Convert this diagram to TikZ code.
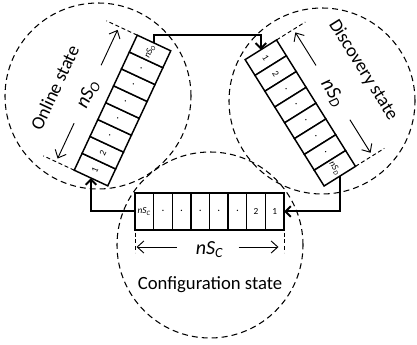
\documentclass[tikz,border=0pt]{standalone}
\usepackage{fontspec}
\setmainfont{Carlito}
\usetikzlibrary{positioning,arrows.meta}

\begin{document}
\begin{tikzpicture}[x=0.75pt,y=-0.75pt,
    cell/.style={draw,fill=white,line width=1.1pt,minimum width=13.97pt,minimum height=27.75pt,
      inner sep=0pt,outer sep=0pt,font=\fontsize{7}{8}\selectfont},
    zone/.style={circle,draw,dash pattern=on 4.5pt off 3pt,line width=0.8pt,minimum size=139.5pt,inner sep=0pt},
    conn/.style={line width=1.5pt,-{Straight Barb[length=4pt,width=8pt]}},
    dimarrow/.style={line width=0.7pt,-{Straight Barb[length=5pt,width=9pt]}},
    endtick/.style={dash pattern=on 3pt off 2pt,line width=0.7pt},
    statename/.style={font=\fontsize{14}{16}\selectfont},
    sizelabel/.style={font=\fontsize{15}{18}\selectfont\itshape}]

\useasboundingbox (0,0) rectangle (417,345);

% the three states
\node[zone] (online) at (98,96) {};
\node[zone] (discovery) at (322,101) {};
\node[zone] (config) at (210,245) {};

% online state buffer
\begin{scope}[shift={(122.5,110.5)},rotate=65,transform shape]
\node[cell] (o1) at (-65.2,0) {1};
\node[cell,right=0pt of o1] (o2) {2};
\node[cell,right=0pt of o2] (o3) {·};
\node[cell,right=0pt of o3] (o4) {·};
\node[cell,right=0pt of o4] (o5) {·};
\node[cell,right=0pt of o5] (o6) {·};
\node[cell,right=0pt of o6] (o7) {·};
\node[cell,right=0pt of o7] (oN) {\textit{nS}\textsubscript{\textit{O}}};
\draw[endtick] (o1.north west) -- ++(0,-34);
\draw[endtick] (oN.north east) -- ++(0,-34);
\node[sizelabel] (osize) at (0,-38) {nS\textsubscript{O}};
\coordinate (oa) at (32,-38.5);
\coordinate (ob) at (-32,-38.5);
\draw[dimarrow] (oa) -- ++(39,0);
\draw[dimarrow] (ob) -- ++(-39,0);
\node[statename] (oname) at (-8,-71) {Online state};
\end{scope}

% discovery state buffer
\begin{scope}[shift={(300.3,113)},rotate=-58,transform shape]
\node[cell] (d1) at (-65.2,0) {1};
\node[cell,right=0pt of d1] (d2) {2};
\node[cell,right=0pt of d2] (d3) {·};
\node[cell,right=0pt of d3] (d4) {·};
\node[cell,right=0pt of d4] (d5) {·};
\node[cell,right=0pt of d5] (d6) {·};
\node[cell,right=0pt of d6] (d7) {·};
\node[cell,right=0pt of d7] (dN) {\textit{nS}\textsubscript{\textit{D}}};
\draw[endtick] (d1.north west) -- ++(0,-34);
\draw[endtick] (dN.north east) -- ++(0,-34);
\node[sizelabel] (dsize) at (0,-38) {nS\textsubscript{D}};
\coordinate (da) at (32,-38.5);
\coordinate (db) at (-32,-38.5);
\draw[dimarrow] (da) -- ++(39,0);
\draw[dimarrow] (db) -- ++(-39,0);
\node[statename] (dname) at (-3,-76) {Discovery state};
\end{scope}

% configuration state buffer
\begin{scope}[shift={(209.5,211.5)}]
\node[cell] (c1) at (65.2,0) {1};
\node[cell,left=0pt of c1] (c2) {2};
\node[cell,left=0pt of c2] (c3) {·};
\node[cell,left=0pt of c3] (c4) {·};
\node[cell,left=0pt of c4] (c5) {·};
\node[cell,left=0pt of c5] (c6) {·};
\node[cell,left=0pt of c6] (c7) {·};
\node[cell,left=0pt of c7] (cN) {\textit{nS}\textsubscript{\textit{C}}};
\draw[endtick] (-74.5,21) -- (-74.5,41);
\draw[endtick] (74.5,21) -- (74.5,41);
\node[sizelabel] (csize) at (0,38) {nS\textsubscript{C}};
\coordinate (ca) at (29,35.5);
\coordinate (cb) at (-33,35.5);
\draw[dimarrow] (ca) -- ++(40,0);
\draw[dimarrow] (cb) -- ++(-40,0);
\node[statename] (cname) at (0.5,73.5) {Configuration state};
\end{scope}

% transitions between the states
\draw[conn] (oN.east) -- ++(0,-8) -| (d1.west);
\draw[conn] (dN.east) |- (c1.east);
\draw[conn] (cN.west) -| (o1.west);

\end{tikzpicture}
\end{document}
